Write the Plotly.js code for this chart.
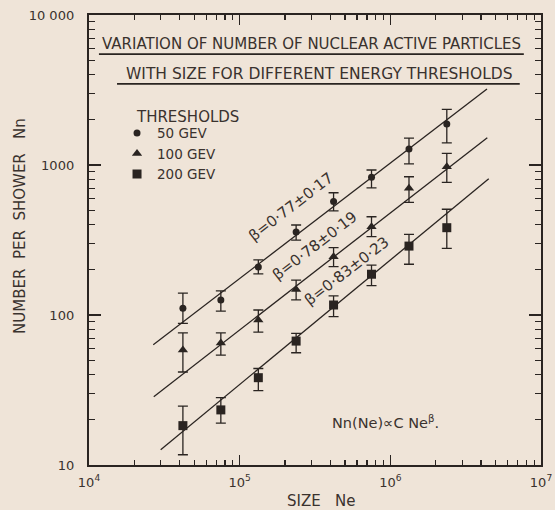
<!DOCTYPE html>
<html><head><meta charset="utf-8">
<script src="https://cdn.plot.ly/plotly-3.0.1.min.js"></script>
<style>html,body{margin:0;padding:0;background:#efe5d9;}</style>
</head><body><div id="chart" style="width:555px;height:510px;"></div>
<script>
// ---- data ----
const sizeNe = [4.2e4, 7.5e4, 1.33e5, 2.37e5, 4.2e5, 7.5e5, 1.33e6, 2.37e6];
const n50   = [111, 126, 209, 357, 570, 830, 1280, 1880];
const n50Hi = [140, 145, 233, 398, 653, 926, 1510, 2350];
const n50Lo = [88, 106, 188, 316, 495, 703, 1016, 1403];
const n100   = [58.5, 65, 92.6, 148, 245, 388, 699, 975];
const n100Hi = [76, 76, 108, 171, 281, 452, 835, 1197];
const n100Lo = [41.7, 54, 77, 126, 210, 333, 564, 766];
const n200   = [18.3, 23.3, 38.2, 67, 116.6, 187, 288, 382];
const n200Hi = [24.7, 28.1, 44, 75.5, 134, 215, 345, 507];
const n200Lo = [11.7, 19, 31.3, 56, 97.5, 157, 218, 278];
const seriesNames = ['50 GEV', '100 GEV', '200 GEV'];
const betas = [0.77, 0.78, 0.83];
const betaErrs = [0.17, 0.19, 0.23];
const fitAt1e5 = [175, 79.5, 34.4];     // fitted Nn at Ne = 1e5
const fitStart = [2.67e4, 2.69e4, 2.99e4];
const fitEnd = [4.38e6, 4.4e6, 4.5e6];
const yTickVals = [10, 100, 1000, 10000];
const yTickText = ['10', '100', '1000', '10 000'];
const xTickVals = [1e4, 1e5, 1e6, 1e7];
const xTickText = ['10<sup>4</sup>', '10<sup>5</sup>', '10<sup>6</sup>', '10<sup>7</sup>'];

const INK = '#2a2421';
const TXT = '#3a322e';
const BG = '#efe4d8';
const FONT = 'DejaVu Sans, sans-serif';

const ys = [n50, n100, n200];
const his = [n50Hi, n100Hi, n200Hi];
const los = [n50Lo, n100Lo, n200Lo];
const symbols = ['circle', 'triangle-up', 'square'];
const msizes = [7, 9, 9];

function minorVals(lo, hi) {
  const v = [];
  for (let k = lo; k < hi; k++) for (let d = 2; d <= 9; d++) v.push(d * Math.pow(10, k));
  return v;
}

const traces = [];
for (let s = 0; s < 3; s++) {
  const xs = [fitStart[s], fitEnd[s]];
  traces.push({
    x: xs, y: xs.map(x => fitAt1e5[s] * Math.pow(x / 1e5, betas[s])),
    mode: 'lines', line: {color: INK, width: 1.3}, showlegend: false, hoverinfo: 'skip'
  });
}
for (let s = 0; s < 3; s++) {
  traces.push({
    x: sizeNe, y: ys[s], name: seriesNames[s], mode: 'markers',
    marker: {symbol: symbols[s], size: msizes[s], color: INK},
    error_y: {type: 'data', symmetric: false,
      array: his[s].map((h, i) => h - ys[s][i]),
      arrayminus: los[s].map((l, i) => ys[s][i] - l),
      color: INK, thickness: 1.3, width: 5}
  });
}

const fmt = v => v.toFixed(2).replace('.', '·');
const betaPos = [[5.338, 2.722], [5.497, 2.46], [5.712, 2.293]];
const C = {xanchor: 'center', yanchor: 'middle', showarrow: false};
const annotations = betaPos.map((p, s) => Object.assign({
  xref: 'x', yref: 'y', x: p[0], y: p[1],
  text: 'β=' + fmt(betas[s]) + '±' + fmt(betaErrs[s]), textangle: -37.5,
  font: {family: FONT, size: 15, color: TXT}
}, C));
annotations.push(
  Object.assign({xref: 'paper', yref: 'paper', x: 0.492, y: 0.936,
   text: 'VARIATION OF NUMBER OF NUCLEAR ACTIVE PARTICLES', font: {family: FONT, size: 15, color: TXT}}, C),
  Object.assign({xref: 'paper', yref: 'paper', x: 0.51, y: 0.869,
   text: 'WITH SIZE FOR DIFFERENT ENERGY THRESHOLDS', font: {family: FONT, size: 15.5, color: TXT}}, C),
  Object.assign({xref: 'paper', yref: 'paper', x: 0.218, y: 0.773,
   text: 'THRESHOLDS', font: {family: FONT, size: 15, color: TXT}}, C),
  Object.assign({xref: 'paper', yref: 'paper', x: 0.533, y: 0.095,
   text: 'Nn(Ne)∝C Ne<sup>β</sup>.', font: {family: FONT, size: 14.5, color: TXT}}, C, {xanchor: 'left'}),
  Object.assign({xref: 'paper', yref: 'paper', x: -0.153, y: 0.531, textangle: -90,
   text: 'NUMBER  PER  SHOWER   Nn', font: {family: FONT, size: 15, color: TXT}}, C),
  Object.assign({xref: 'paper', yref: 'paper', x: 0.513, y: -0.08,
   text: 'SIZE   Ne', font: {family: FONT, size: 15, color: TXT}}, C)
);

const shapes = [
  {type: 'line', xref: 'paper', yref: 'paper', x0: 0.022, x1: 0.962, y0: 0.913, y1: 0.913, line: {color: INK, width: 1.6}},
  {type: 'line', xref: 'paper', yref: 'paper', x0: 0.062, x1: 0.953, y0: 0.847, y1: 0.847, line: {color: INK, width: 1.6}}
];

const axisCommon = {
  type: 'log', showgrid: false, zeroline: false, showline: true, linewidth: 2.2, linecolor: INK,
  mirror: 'ticks', ticks: 'inside', ticklen: 10, tickwidth: 1.3, tickcolor: INK, tickmode: 'array',
  tickfont: {family: FONT, size: 13, color: TXT}
};

const layout = {
  width: 555, height: 510,
  margin: {l: 89, r: 14, t: 15, b: 45},
  paper_bgcolor: BG, plot_bgcolor: BG,
  showlegend: true,
  legend: {x: 0.062, y: 0.772, xanchor: 'left', yanchor: 'top', bgcolor: 'rgba(0,0,0,0)',
    font: {family: FONT, size: 13.5, color: TXT}, tracegroupgap: 0},
  xaxis: Object.assign({}, axisCommon, {range: [4, 7], tickvals: xTickVals, ticktext: xTickText,
    ticklabelstandoff: 4,
    minor: {ticks: 'inside', ticklen: 5, tickwidth: 1.2, tickcolor: INK, tickmode: 'array', tickvals: minorVals(4, 7), showgrid: false}}),
  yaxis: Object.assign({}, axisCommon, {range: [1, 4], tickvals: yTickVals, ticktext: yTickText,
    ticklabelstandoff: 10, ticklen: 12,
    minor: {ticks: 'inside', ticklen: 6, tickwidth: 1.2, tickcolor: INK, tickmode: 'array', tickvals: minorVals(1, 4), showgrid: false}}),
  annotations: annotations,
  shapes: shapes
};

Plotly.newPlot('chart', traces, layout, {staticPlot: true, displayModeBar: false});
</script>
</body></html>
